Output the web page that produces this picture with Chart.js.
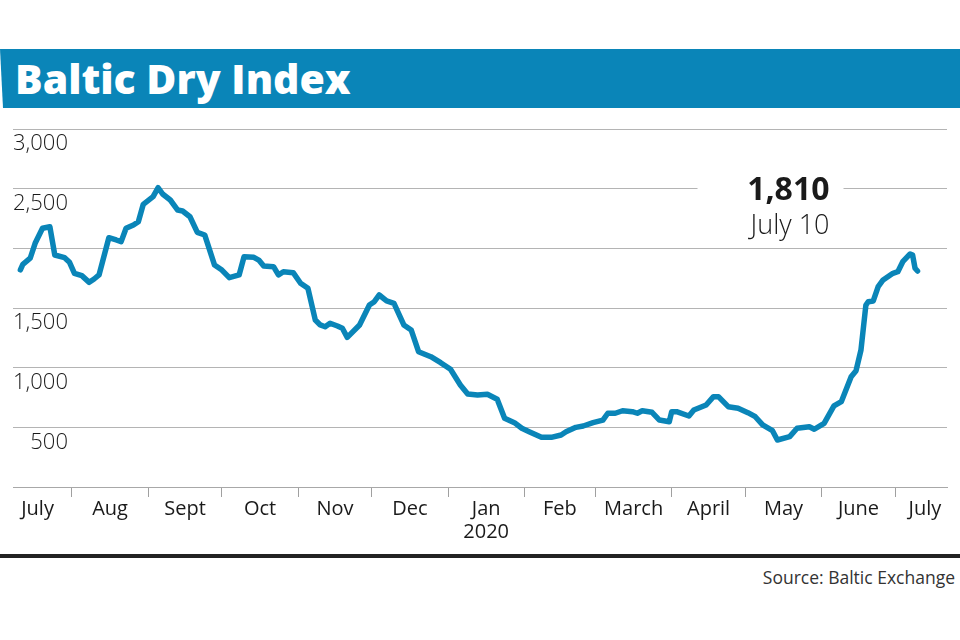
<!DOCTYPE html>
<html>
<head>
<meta charset="utf-8">
<script src="https://cdn.jsdelivr.net/npm/chart.js@4.4.1/dist/chart.umd.min.js"></script>
<style>
html,body{margin:0;padding:0;background:#fff;width:960px;height:640px;overflow:hidden;font-family:"Open Sans",sans-serif;}
#bar{position:absolute;left:0;top:49px;width:960px;height:59px;background:#0a85b8;clip-path:polygon(0 0,100% 0,100% 100%,3px 100%);}
#title{position:absolute;left:15px;top:0;line-height:59px;color:#fff;font-weight:800;font-size:41px;white-space:nowrap;}
#wrap{position:absolute;left:0;top:110px;width:960px;height:440px;}
#rule{position:absolute;left:0;top:554px;width:960px;height:4px;background:#222;}
#source{position:absolute;right:5px;top:567px;font-size:17.5px;line-height:20px;color:#333;white-space:nowrap;}
</style>
</head>
<body>
<div id="bar"><div id="title">Baltic Dry Index</div></div>
<div id="wrap"><canvas id="c"></canvas></div>
<div id="rule"></div>
<div id="source">Source: Baltic Exchange</div>
<script>
// Days counted from 1 July 2019 (day 0)
const days = [10,11,14,16,19,22,24,28,30,32,35,38,40,42,46,49,51,53,56,58,60,64,66,68,71,74,76,79,82,85,
  89,92,95,99,101,105,107,109,113,115,117,121,124,127,130,132,134,136,139,141,143,148,150,152,154,156,159,162,166,169,
  172,177,181,185,189,192,196,200,204,207,211,214,217,222,226,230,232,236,239,243,247,249,252,255,259,261,263,267,270,274,
  275,277,282,284,289,292,294,298,302,306,309,312,316,318,323,326,331,333,337,341,344,348,350,352,354,355,357,359,361,365,
  367,369,372,373,374,375];
const values = [1820,1866,1917,2042,2168,2181,1944,1922,1883,1791,1771,1715,1743,1777,2089,2070,2056,2168,2196,2223,2369,2433,2508,2453,2405,2321,2313,2265,2134,2112,
  1860,1818,1754,1777,1930,1925,1902,1852,1846,1777,1804,1796,1707,1665,1399,1358,1343,1372,1349,1330,1254,1358,1441,1525,1553,1609,1559,1539,1358,1316,
  1134,1092,1042,986,855,779,771,777,735,576,539,492,463,416,416,436,463,500,511,539,561,618,618,639,631,618,639,626,561,547,
  631,631,595,645,687,757,757,673,660,623,589,520,472,394,422,492,505,484,534,679,715,924,975,1148,1525,1553,1559,1679,1735,1791,
  1804,1888,1953,1944,1833,1810];
// Month boundaries (tick marks) and month label positions
const monthStarts = [31,62,92,123,153,184,215,244,275,305,336,366];
const labelDays = [17,46.5,77,107.5,138,168.5,199.5,229.5,259.5,290,320.5,351,378];
const monthLabels = ['July','Aug','Sept','Oct','Nov','Dec',['Jan','2020'],'Feb','March','April','May','June','July'];
const yTicks = [0,500,1000,1500,2000,2500,3000];
const yLabelled = [500,1000,1500,2500,3000];
const lastLabel = 'July 10';

const annotation = {
  id: 'lastValue',
  afterDraw(chart) {
    const {ctx, scales: {x, y}} = chart;
    const right = x.getPixelForValue(days[days.length - 1]) - 88;
    const top = y.getPixelForValue(2500);
    ctx.save();
    ctx.fillStyle = '#fff';
    ctx.fillRect(right - 132, top - 4, 146, 8);
    ctx.fillStyle = '#1a1a1a';
    ctx.textAlign = 'right';
    ctx.textBaseline = 'middle';
    ctx.font = '700 32px "Open Sans"';
    ctx.fillText(values[values.length - 1].toLocaleString('en-US'), right, top + 2);
    ctx.font = '300 27px "Open Sans"';
    ctx.fillText(lastLabel, right, top + 38);
    ctx.restore();
  }
};

new Chart(document.getElementById('c'), {
  type: 'line',
  data: {
    datasets: [{
      data: days.map((d, i) => ({x: d, y: values[i]})),
      borderColor: '#0a85b8',
      borderWidth: 5.5,
      pointRadius: 0,
      tension: 0,
      borderJoinStyle: 'round',
      borderCapStyle: 'round',
      fill: false
    }]
  },
  options: {
    responsive: true,
    maintainAspectRatio: false,
    animation: false,
    layout: {padding: {left: 13, right: 13, top: 19, bottom: 1}},
    plugins: {legend: {display: false}, tooltip: {enabled: false}},
    scales: {
      x: {
        type: 'linear',
        min: 7,
        max: 387,
        afterBuildTicks(scale) {
          scale.ticks = monthStarts.concat(labelDays).sort((a, b) => a - b).map(v => ({value: v}));
        },
        afterFit(scale) { scale.height = 62; },
        border: {display: true, color: '#a8a8a8', width: 1},
        grid: {
          display: true,
          drawOnChartArea: false,
          drawTicks: true,
          tickLength: 10,
          tickWidth: 1,
          tickColor: ctx => (ctx.tick && monthStarts.includes(ctx.tick.value)) ? '#a0a0a0' : 'rgba(0,0,0,0)'
        },
        ticks: {
          autoSkip: false,
          maxRotation: 0,
          padding: 1,
          color: '#1a1a1a',
          font: {family: '"Open Sans"', size: 20, weight: '400', lineHeight: 1.15},
          callback: v => { const i = labelDays.indexOf(v); return i >= 0 ? monthLabels[i] : ''; }
        }
      },
      y: {
        type: 'linear',
        min: 0,
        max: 3000,
        afterBuildTicks(scale) { scale.ticks = yTicks.map(v => ({value: v})); },
        border: {display: false},
        grid: {color: '#b4b4b4', lineWidth: 1, drawTicks: false},
        ticks: {
          mirror: true,
          crossAlign: 'far',
          padding: 0,
          labelOffset: 15,
          color: '#1a1a1a',
          font: {family: '"Open Sans"', size: 22, weight: '300'},
          callback: v => yLabelled.includes(v) ? v.toLocaleString('en-US') : ''
        }
      }
    }
  },
  plugins: [annotation]
});
</script>
</body>
</html>
